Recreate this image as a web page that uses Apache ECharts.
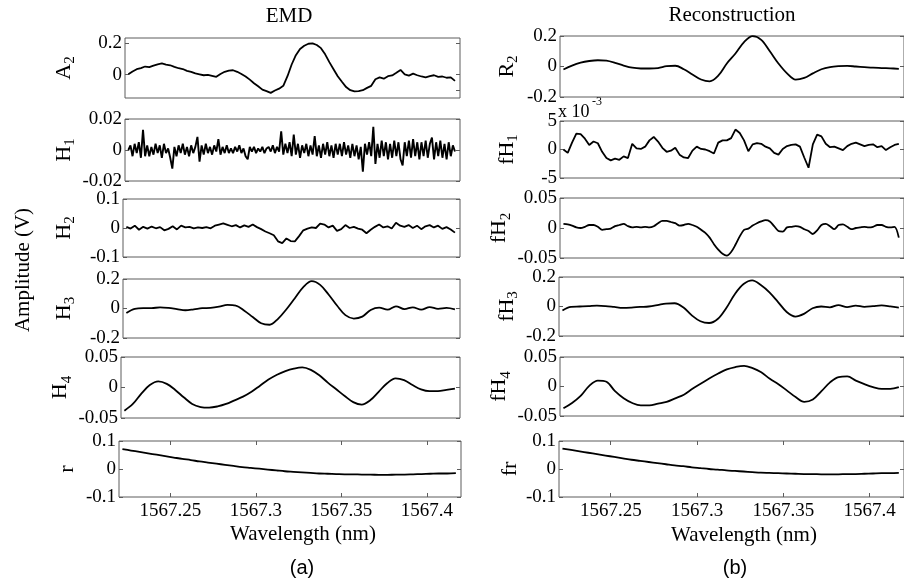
<!DOCTYPE html>
<html>
<head>
<meta charset="utf-8">
<script src="https://cdn.jsdelivr.net/npm/echarts@6/dist/echarts.min.js"></script>
<style>
  html, body { margin: 0; padding: 0; background: #fff; }
  #chart { width: 904px; height: 583px; }
</style>
</head>
<body>
<div id="chart"></div>
<script>
// sampling positions (nm)
var wlCoarse = [1567.222, 1567.227, 1567.232, 1567.237, 1567.242, 1567.247, 1567.252, 1567.257, 1567.262, 1567.267,
  1567.272, 1567.277, 1567.282, 1567.287, 1567.292, 1567.297, 1567.302, 1567.307, 1567.312, 1567.317,
  1567.322, 1567.327, 1567.332, 1567.337, 1567.342, 1567.347, 1567.352, 1567.357, 1567.362, 1567.367,
  1567.372, 1567.377, 1567.382, 1567.387, 1567.392, 1567.397, 1567.402, 1567.407, 1567.412, 1567.417];
var wlFine = [1567.2220, 1567.2245, 1567.2270, 1567.2295, 1567.2320, 1567.2345, 1567.2370, 1567.2395, 1567.2420, 1567.2445,
  1567.2470, 1567.2495, 1567.2520, 1567.2545, 1567.2570, 1567.2595, 1567.2620, 1567.2645, 1567.2670, 1567.2695,
  1567.2720, 1567.2745, 1567.2770, 1567.2795, 1567.2820, 1567.2845, 1567.2870, 1567.2895, 1567.2920, 1567.2945,
  1567.2970, 1567.2995, 1567.3020, 1567.3045, 1567.3070, 1567.3095, 1567.3120, 1567.3145, 1567.3170, 1567.3195,
  1567.3220, 1567.3245, 1567.3270, 1567.3295, 1567.3320, 1567.3345, 1567.3370, 1567.3395, 1567.3420, 1567.3445,
  1567.3470, 1567.3495, 1567.3520, 1567.3545, 1567.3570, 1567.3595, 1567.3620, 1567.3645, 1567.3670, 1567.3695,
  1567.3720, 1567.3745, 1567.3770, 1567.3795, 1567.3820, 1567.3845, 1567.3870, 1567.3895, 1567.3920, 1567.3945,
  1567.3970, 1567.3995, 1567.4020, 1567.4045, 1567.4070, 1567.4095, 1567.4120, 1567.4145, 1567.4170];
var wlDense = [1567.222, 1567.22325, 1567.2245, 1567.22575, 1567.227, 1567.22825, 1567.2295, 1567.23075,
  1567.232, 1567.23325, 1567.2345, 1567.23575, 1567.237, 1567.23825, 1567.2395, 1567.24075,
  1567.242, 1567.24325, 1567.2445, 1567.24575, 1567.247, 1567.24825, 1567.2495, 1567.25075,
  1567.252, 1567.25325, 1567.2545, 1567.25575, 1567.257, 1567.25825, 1567.2595, 1567.26075,
  1567.262, 1567.26325, 1567.2645, 1567.26575, 1567.267, 1567.26825, 1567.2695, 1567.27075,
  1567.272, 1567.27325, 1567.2745, 1567.27575, 1567.277, 1567.27825, 1567.2795, 1567.28075,
  1567.282, 1567.28325, 1567.2845, 1567.28575, 1567.287, 1567.28825, 1567.2895, 1567.29075,
  1567.292, 1567.29325, 1567.2945, 1567.29575, 1567.297, 1567.29825, 1567.2995, 1567.30075,
  1567.302, 1567.30325, 1567.3045, 1567.30575, 1567.307, 1567.30825, 1567.3095, 1567.31075,
  1567.312, 1567.31325, 1567.3145, 1567.31575, 1567.317, 1567.31825, 1567.3195, 1567.32075,
  1567.322, 1567.32325, 1567.3245, 1567.32575, 1567.327, 1567.32825, 1567.3295, 1567.33075,
  1567.332, 1567.33325, 1567.3345, 1567.33575, 1567.337, 1567.33825, 1567.3395, 1567.34075,
  1567.342, 1567.34325, 1567.3445, 1567.34575, 1567.347, 1567.34825, 1567.3495, 1567.35075,
  1567.352, 1567.35325, 1567.3545, 1567.35575, 1567.357, 1567.35825, 1567.3595, 1567.36075,
  1567.362, 1567.36325, 1567.3645, 1567.36575, 1567.367, 1567.36825, 1567.3695, 1567.37075,
  1567.372, 1567.37325, 1567.3745, 1567.37575, 1567.377, 1567.37825, 1567.3795, 1567.38075,
  1567.382, 1567.38325, 1567.3845, 1567.38575, 1567.387, 1567.38825, 1567.3895, 1567.39075,
  1567.392, 1567.39325, 1567.3945, 1567.39575, 1567.397, 1567.39825, 1567.3995, 1567.40075,
  1567.402, 1567.40325, 1567.4045, 1567.40575, 1567.407, 1567.40825, 1567.4095, 1567.41075,
  1567.412, 1567.41325, 1567.4145, 1567.41575, 1567.417];

// (a) EMD
var emdA2 = [0.002, 0.02, 0.035, 0.042, 0.052, 0.048, 0.058, 0.066, 0.072, 0.064,
  0.06, 0.05, 0.041, 0.036, 0.024, 0.018, 0.008, 0.002, -0.004, -0.002,
  -0.008, -0.014, 0.004, 0.018, 0.026, 0.028, 0.018, 0.004, -0.012, -0.032,
  -0.055, -0.075, -0.096, -0.106, -0.117, -0.102, -0.09, -0.072, -0.01, 0.065,
  0.125, 0.165, 0.185, 0.198, 0.2, 0.19, 0.17, 0.13, 0.08, 0.035,
  -0.01, -0.046, -0.08, -0.1, -0.108, -0.106, -0.1, -0.085, -0.072, -0.03,
  -0.018, -0.026, -0.01, -0.005, 0.012, 0.03, 0.002, -0.006, 0.006, -0.004,
  -0.012, -0.018, -0.01, -0.004, -0.014, -0.012, -0.02, -0.018, -0.04];
var emdH1 = [0.000, 0.003, -0.004, 0.004, -0.002, 0.005, -0.005, 0.013, -0.004, 0.003,
  -0.004, 0.002, -0.003, 0.004, -0.002, 0.003, -0.005, 0.004, -0.002, 0.001,
  -0.005, -0.012, 0.002, -0.004, 0.003, -0.002, 0.004, -0.003, 0.002, -0.004,
  0.003, -0.002, 0.002, 0.0085, -0.0075, 0.003, -0.003, 0.004, -0.002, 0.002,
  -0.003, 0.003, -0.001, 0.007, -0.003, 0.002, -0.002, 0.003, -0.002, 0.001,
  -0.002, 0.002, -0.001, 0.003, -0.002, 0.001, -0.004, -0.006, 0.002, -0.001,
  0.002, -0.002, 0.001, -0.001, 0.002, -0.002, 0.001, 0.002, -0.001, 0.003,
  -0.002, 0.002, -0.001, 0.012, -0.003, 0.004, -0.002, 0.005, -0.004, 0.010,
  -0.003, 0.004, -0.005, 0.003, -0.002, 0.004, -0.004, 0.003, -0.003, 0.009,
  -0.004, 0.003, -0.005, 0.004, -0.003, 0.005, -0.004, 0.003, -0.005, 0.004,
  -0.003, 0.004, -0.004, 0.005, -0.003, 0.003, -0.005, 0.004, -0.004, 0.003,
  -0.006, 0.002, -0.014, 0.004, -0.003, 0.005, -0.004, 0.015, -0.009, 0.004,
  -0.005, 0.006, -0.004, 0.005, -0.006, 0.004, -0.005, 0.006, -0.004, 0.005,
  -0.006, -0.010, 0.005, -0.004, 0.006, -0.005, 0.007, -0.004, 0.005, -0.006,
  0.005, -0.004, 0.006, -0.005, 0.004, 0.008, -0.006, 0.005, -0.004, 0.006,
  -0.005, 0.004, -0.006, 0.005, -0.004, 0.003, -0.001];
var emdH2 = [0.004, -0.002, 0.008, -0.006, 0.004, -0.002, 0.005, -0.001, 0.003, -0.008,
  -0.003, 0.006, -0.005, 0.008, 0.002, 0.004, -0.001, 0.002, 0.0, 0.003,
  -0.001, 0.008, 0.012, 0.016, 0.011, 0.006, 0.01, 0.002, 0.009, 0.004,
  0.012, 0.003, -0.004, -0.012, -0.018, -0.025, -0.046, -0.052, -0.036, -0.045,
  -0.046, -0.028, -0.008, -0.002, 0.002, 0.0, 0.015, 0.012, 0.002, 0.008,
  -0.01, -0.004, 0.01, 0.0, 0.004, -0.002, -0.006, -0.018, -0.006, 0.004,
  0.012, 0.002, 0.006, -0.002, 0.018, 0.008, 0.004, 0.01, 0.0, 0.008,
  -0.004, 0.006, 0.01, 0.002, 0.008, -0.003, 0.003, -0.005, -0.016];
var emdH3 = [-0.03, -0.002, 0.002, 0.002, 0.008, 0.004, -0.004, -0.012, -0.006, 0.002,
  0.004, 0.012, 0.024, 0.02, -0.015, -0.058, -0.1, -0.11, -0.07, -0.005,
  0.07, 0.145, 0.185, 0.16, 0.095, 0.02, -0.045, -0.068, -0.055, -0.01,
  0.006, -0.008, 0.015, -0.004, 0.008, -0.008, 0.01, -0.002, 0.004, -0.006];
var emdH4 = [-0.038, -0.027, -0.01, 0.004, 0.01, 0.006, -0.004, -0.016, -0.027, -0.032,
  -0.033, -0.031, -0.027, -0.021, -0.015, -0.007, 0.003, 0.013, 0.021, 0.027,
  0.031, 0.033, 0.029, 0.02, 0.008, -0.003, -0.014, -0.024, -0.028, -0.021,
  -0.007, 0.007, 0.015, 0.012, 0.004, -0.003, -0.006, -0.006, -0.004, -0.002];
var emdR = [0.071, 0.066, 0.061, 0.056, 0.051, 0.046, 0.041, 0.036, 0.032, 0.027,
  0.023, 0.019, 0.015, 0.011, 0.007, 0.004, 0.001, -0.002, -0.005, -0.008,
  -0.010, -0.012, -0.014, -0.016, -0.017, -0.018, -0.019, -0.019, -0.020, -0.020,
  -0.021, -0.021, -0.020, -0.020, -0.019, -0.018, -0.017, -0.016, -0.016, -0.015];

// (b) Reconstruction
var recR2 = [-0.02, 0.006, 0.025, 0.036, 0.041, 0.038, 0.024, 0.006, -0.008, -0.013,
  -0.013, -0.01, 0.002, 0.005, -0.018, -0.052, -0.085, -0.097, -0.06, 0.02,
  0.085, 0.16, 0.199, 0.175, 0.1, 0.02, -0.045, -0.086, -0.075, -0.045,
  -0.018, -0.004, 0.002, 0.004, 0.0, -0.004, -0.008, -0.01, -0.012, -0.015];
var recH1 = [0.0, -0.6, 1.2, 2.8, 2.7, 1.9, 0.8, 1.4, 1.1, -0.4,
  -1.5, -1.9, -1.6, -1.8, -1.2, -1.5, 1.0, 0.2, 0.1, 0.5,
  1.6, 2.2, 1.4, 0.3, -0.4, -0.2, 0.3, -0.9, -1.4, -1.5,
  -0.2, 0.5, 0.1, 0.0, -0.3, -0.7, 1.2, 1.6, 1.6, 2.0,
  3.5, 2.9, 1.6, -0.3, 0.9, 1.1, 1.0, 0.5, 0.2, -0.6,
  -0.9, 0.1, 0.6, 0.8, 0.9, 0.5, -1.4, -3.2, 0.9, 2.6,
  2.3, 1.0, 0.4, 0.5, 0.2, -0.1, 0.6, 1.0, 1.2, 0.9,
  0.6, 0.8, 0.9, 0.4, 0.6, -0.1, 0.4, 0.8, 1.0]; // x 1e-3
var recH2 = [0.007, 0.006, 0.004, 0.001, 0.0, 0.002, 0.005, 0.005, 0.002, -0.003,
  -0.002, -0.001, 0.003, 0.005, 0.007, 0.003, 0.001, 0.002, 0.001, 0.002,
  0.001, 0.003, 0.008, 0.012, 0.012, 0.01, 0.008, 0.004, 0.005, 0.007,
  0.005, 0.002, -0.003, -0.008, -0.016, -0.027, -0.036, -0.043, -0.046, -0.04,
  -0.028, -0.014, -0.003, -0.001, 0.004, 0.008, 0.011, 0.013, 0.011, 0.003,
  -0.005, -0.006, 0.001, 0.002, 0.003, 0.002, -0.002, -0.005, -0.01, -0.004,
  0.005, 0.007, 0.003, -0.002, 0.005, 0.006, 0.002, -0.002, 0.0, 0.001,
  0.002, 0.001, 0.002, 0.005, 0.005, 0.002, 0.001, 0.002, -0.016];
var recH3 = [-0.027, -0.002, 0.0, 0.002, 0.006, 0.003, -0.003, -0.009, -0.007, -0.003,
  0.0, 0.009, 0.02, 0.022, -0.005, -0.06, -0.1, -0.112, -0.085, -0.01,
  0.085, 0.152, 0.177, 0.146, 0.096, 0.03, -0.037, -0.068, -0.05, -0.012,
  0.0, -0.006, 0.01, -0.004, 0.006, -0.002, 0.002, 0.007, 0.001, -0.008];
var recH4 = [-0.037, -0.028, -0.016, 0.001, 0.01, 0.008, -0.008, -0.02, -0.028, -0.032,
  -0.032, -0.029, -0.026, -0.02, -0.014, -0.004, 0.005, 0.014, 0.022, 0.029,
  0.033, 0.035, 0.031, 0.024, 0.013, 0.004, -0.007, -0.018, -0.026, -0.022,
  -0.008, 0.007, 0.016, 0.017, 0.01, 0.004, -0.001, -0.004, -0.004, -0.001];
var recR = [0.073, 0.068, 0.063, 0.058, 0.053, 0.048, 0.043, 0.038, 0.033, 0.029,
  0.025, 0.021, 0.017, 0.013, 0.010, 0.006, 0.003, 0.000, -0.002, -0.005,
  -0.007, -0.009, -0.011, -0.013, -0.014, -0.015, -0.016, -0.017, -0.018, -0.018,
  -0.019, -0.019, -0.019, -0.018, -0.018, -0.017, -0.016, -0.015, -0.015, -0.014];

// tick labels
var xTicks = [1567.25, 1567.3, 1567.35, 1567.4];
var ticksA2 = [-0.1, 0, 0.2];
var ticksH1 = [-0.02, 0, 0.02];
var ticks01 = [-0.1, 0, 0.1];
var ticks02 = [-0.2, 0, 0.2];
var ticks005 = [-0.05, 0, 0.05];
var ticksFH1 = [-5, 0, 5];

var serif = 'Liberation Serif';
var boxColor = '#5c5c5c';

var panels = [
  { ys: emdA2, xs: wlFine, main: 'A', sub: '2', min: -0.15, max: 0.235, ticks: ticksA2, box: [125, 38, 335, 60] },
  { ys: emdH1, xs: wlDense, main: 'H', sub: '1', min: -0.02, max: 0.02, ticks: ticksH1, box: [125, 119, 335, 62], lw: 1.9 },
  { ys: emdH2, xs: wlFine, main: 'H', sub: '2', min: -0.1, max: 0.1, ticks: ticks01, box: [123, 199, 337, 58] },
  { ys: emdH3, xs: wlCoarse, main: 'H', sub: '3', min: -0.2, max: 0.2, ticks: ticks02, box: [123, 279, 337, 59], smooth: 0.35 },
  { ys: emdH4, xs: wlCoarse, main: 'H', sub: '4', min: -0.05, max: 0.05, ticks: ticks005, box: [121, 357, 339, 61], smooth: 0.35 },
  { ys: emdR, xs: wlCoarse, main: 'r', sub: '', min: -0.1, max: 0.1, ticks: ticks01, box: [119, 441, 342, 56], smooth: 0.35, bottom: true },
  { ys: recR2, xs: wlCoarse, main: 'R', sub: '2', min: -0.2, max: 0.2, ticks: ticks02, box: [560, 36, 348, 61], smooth: 0.35, right: true },
  { ys: recH1, xs: wlFine, main: 'fH', sub: '1', min: -5, max: 5, ticks: ticksFH1, box: [560, 121, 348, 57], right: true },
  { ys: recH2, xs: wlFine, main: 'fH', sub: '2', min: -0.05, max: 0.05, ticks: ticks005, box: [560, 198, 348, 60], smooth: 0.3, right: true },
  { ys: recH3, xs: wlCoarse, main: 'fH', sub: '3', min: -0.2, max: 0.2, ticks: ticks02, box: [559, 277, 349, 59], smooth: 0.35, right: true },
  { ys: recH4, xs: wlCoarse, main: 'fH', sub: '4', min: -0.05, max: 0.05, ticks: ticks005, box: [560, 357, 348, 59], smooth: 0.35, right: true },
  { ys: recR, xs: wlCoarse, main: 'fr', sub: '', min: -0.1, max: 0.1, ticks: ticks01, box: [559, 441, 349, 56], smooth: 0.35, right: true, bottom: true }
];

var nameRich = {
  m: { fontFamily: serif, fontSize: 22, color: '#000', verticalAlign: 'top' },
  s: { fontFamily: serif, fontSize: 15, color: '#000', verticalAlign: 'top', padding: [10, 0, 0, 0] }
};
var labelStyle = { color: '#000', fontFamily: serif, fontSize: 19 };
function plain(v) { return String(v); }

var grid = [], xAxis = [], yAxis = [], series = [];
panels.forEach(function (p, i) {
  grid.push({
    left: p.box[0], top: p.box[1], width: p.box[2], height: p.box[3],
    show: true, borderColor: boxColor, borderWidth: 1, backgroundColor: '#fff'
  });
  var tickStyle = { color: boxColor, width: 1 };
  ['bottom', 'top'].forEach(function (pos) {
    xAxis.push({
      gridIndex: i, type: 'value', min: 1567.22, max: 1567.42, position: pos,
      axisLine: { show: false, onZero: false }, splitLine: { show: false },
      axisTick: { show: !!p.bottom, inside: true, length: 4, lineStyle: tickStyle, customValues: xTicks },
      axisLabel: Object.assign({ show: !!p.bottom && pos === 'bottom', customValues: xTicks, margin: 5, formatter: plain }, labelStyle)
    });
  });
  var labelRight = p.right ? 521 : 78;
  yAxis.push({
    gridIndex: i, type: 'value', min: p.min, max: p.max, position: 'left',
    axisLine: { show: false, onZero: false }, splitLine: { show: false },
    axisTick: { inside: true, length: 4, lineStyle: tickStyle, customValues: p.ticks },
    axisLabel: Object.assign({ customValues: p.ticks, margin: 3, formatter: plain }, labelStyle),
    name: p.sub ? '{m|' + p.main + '}{s|' + p.sub + '}' : '{m|' + p.main + '}',
    nameLocation: 'middle', nameRotate: 90, nameGap: p.box[0] - labelRight,
    nameTextStyle: { rich: nameRich }
  });
  yAxis.push({
    gridIndex: i, type: 'value', min: p.min, max: p.max, position: 'right',
    axisLine: { show: false, onZero: false }, splitLine: { show: false },
    axisTick: { inside: true, length: 4, lineStyle: tickStyle, customValues: p.ticks },
    axisLabel: { show: false }
  });
  series.push({
    type: 'line', xAxisIndex: 2 * i, yAxisIndex: 2 * i,
    data: p.ys.map(function (v, k) { return [p.xs[k], v]; }),
    showSymbol: false, symbol: 'none', smooth: p.smooth || false,
    lineStyle: { color: '#000', width: p.lw || 1.8 },
    silent: true
  });
});

function label(text, x, y, font, rot) {
  return {
    type: 'text', x: x, y: y, rotation: rot || 0, silent: true,
    style: { text: text, fill: '#000', font: font, align: 'center', verticalAlign: 'middle' }
  };
}
var graphic = [
  label('EMD', 289, 16, '21px "Liberation Serif"'),
  label('Reconstruction', 732, 15, '21px "Liberation Serif"'),
  label('Amplitude (V)', 23, 270, '21px "Liberation Serif"', Math.PI / 2),
  label('Wavelength (nm)', 303, 534, '21px "Liberation Serif"'),
  label('Wavelength (nm)', 744, 535, '21px "Liberation Serif"'),
  label('(a)', 302, 568, '20px "Liberation Sans"'),
  label('(b)', 735, 568, '20px "Liberation Sans"'),
  { type: 'text', x: 558, y: 112, silent: true, style: { text: 'x 10', fill: '#000', font: '18px "Liberation Serif"', align: 'left', verticalAlign: 'middle' } },
  { type: 'text', x: 592, y: 102, silent: true, style: { text: '-3', fill: '#000', font: '12px "Liberation Serif"', align: 'left', verticalAlign: 'middle' } }
];

var chart = echarts.init(document.getElementById('chart'), null, { renderer: 'canvas' });
chart.setOption({
  animation: false,
  backgroundColor: '#fff',
  grid: grid,
  xAxis: xAxis,
  yAxis: yAxis,
  series: series,
  graphic: graphic
});
window.addEventListener('resize', function () { chart.resize(); });
</script>
</body>
</html>
